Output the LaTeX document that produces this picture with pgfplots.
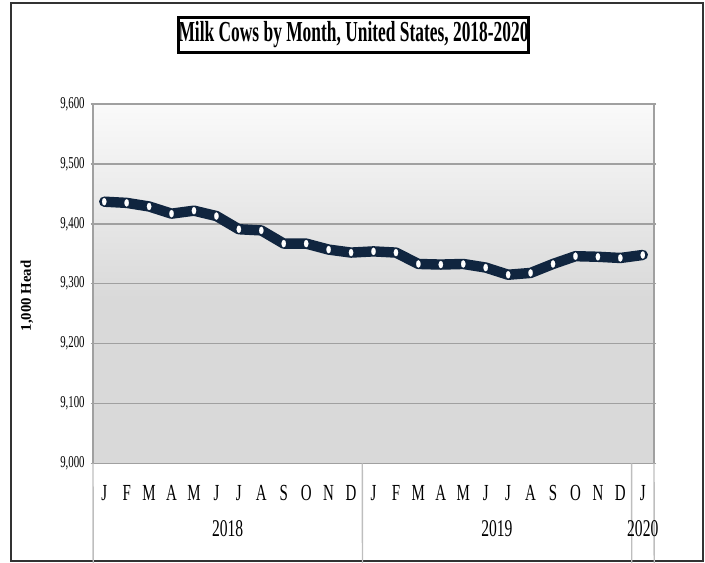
\documentclass[border=0pt]{standalone}
\usepackage{pgfplots}
\usepackage{pgfplotstable}
\pgfplotsset{compat=1.18}
\usepackage{fontspec}
\setmainfont[FakeStretch=0.65]{Liberation Serif}
\newfontfamily\plainserif{Liberation Serif}
\newfontfamily\titleserif[FakeStretch=0.6]{Liberation Serif}
\definecolor{navy}{RGB}{16,37,63}
\definecolor{gridc}{RGB}{160,160,160}
\definecolor{sepc}{RGB}{190,190,190}
\definecolor{bgtop}{RGB}{250,250,250}
\definecolor{bgbot}{RGB}{217,217,217}
\pgfdeclareverticalshading{plotbg}{100bp}{color(0bp)=(bgbot); color(25bp)=(bgbot); color(48bp)=(bgbot); color(75bp)=(bgtop); color(100bp)=(bgtop)}
\pgfplotstableread{
m head
0 9437
1 9435
2 9429
3 9417
4 9422
5 9413
6 9391
7 9389
8 9367
9 9367
10 9357
11 9352
12 9354
13 9352
14 9333
15 9332
16 9333
17 9327
18 9315
19 9318
20 9333
21 9346
22 9345
23 9343
24 9348
}\cows
\begin{document}
\begin{tikzpicture}[x=1pt,y=1pt]
\path[use as bounding box] (0,0) rectangle (352.5,281);
\draw[line width=0.8pt, black!80] (5.5,0.5) rectangle (351.5,279.5);
\node[draw, line width=1.5pt, minimum width=173.5pt, minimum height=17.7pt, inner sep=0pt] at (176.75,263.5) {\titleserif\fontsize{14.5}{15}\selectfont\bfseries Milk Cows by Month, United States, 2018-2020};
\node[rotate=90, font=\plainserif\fontsize{7.4}{8}\selectfont\bfseries] at (13.5,133) {1,000 Head};
\begin{axis}[at={(46.5pt,49.35pt)}, anchor=south west, scale only axis,
  width=280.5pt, height=179.65pt,
  xmin=-0.5, xmax=24.5, ymin=9000, ymax=9600,
  ytick={9000,9100,9200,9300,9400,9500,9600},
  /pgf/number format/assume math mode=true,
  /pgf/number format/1000 sep={,},
  yticklabel style={font=\fontsize{8.3}{9}\selectfont, anchor=east, inner sep=0pt, xshift=-2.8pt},
  xtick={0,...,24},
  xticklabels={J,F,M,A,M,J,J,A,S,O,N,D,J,F,M,A,M,J,J,A,S,O,N,D,J},
  xticklabel style={font=\fontsize{11.5}{12}\selectfont, anchor=center, inner sep=0pt, yshift=-13.6pt},
  tick align=outside,
  major tick length=1.2pt,
  xtick style={draw=none},
  ytick style={gridc, line width=0.7pt},
  ymajorgrids,
  grid style={gridc, line width=0.75pt},
  axis line style={gridc, line width=0.75pt},
  axis background/.style={shading=plotbg},
  clip=false,
]
\addplot[navy, line width=5.2pt, line join=round, line cap=round, no marks] table[x=m, y=head] {\cows};
\addplot[only marks, mark=*, mark size=1.8pt,
  mark options={fill=white, draw=white, line width=0.1pt, xscale=0.6}] table[x=m, y=head] {\cows};
\draw[sepc, line width=0.7pt] (axis cs:-0.5,9000) -- ++(0,-38.9pt);
\draw[sepc, line width=0.7pt] (axis cs:11.5,9000) -- ++(0,-38.9pt);
\draw[sepc, line width=0.7pt] (axis cs:23.5,9000) -- ++(0,-38.9pt);
\draw[sepc, line width=0.7pt] (axis cs:24.5,9000) -- ++(0,-38.9pt);
\node[font=\fontsize{12}{13}\selectfont] at (axis cs:5.5,9000) [yshift=-32.6pt] {2018};
\node[font=\fontsize{12}{13}\selectfont] at (axis cs:17.5,9000) [yshift=-32.6pt] {2019};
\node[font=\fontsize{12}{13}\selectfont] at (axis cs:24,9000) [yshift=-32.6pt] {2020};
\end{axis}
\end{tikzpicture}
\end{document}
